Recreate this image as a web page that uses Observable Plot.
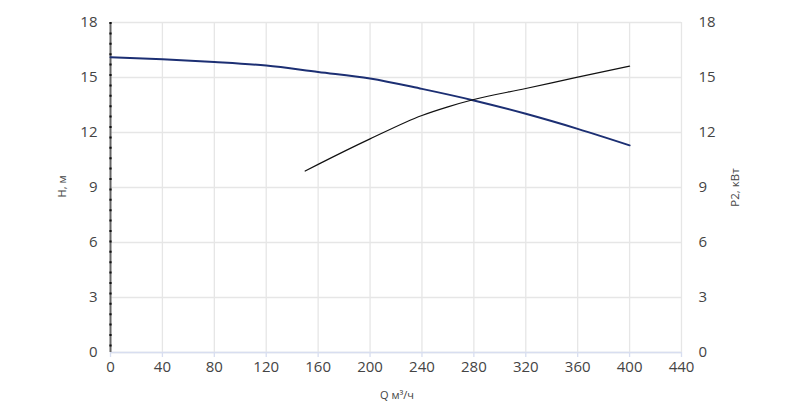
<!DOCTYPE html>
<html>
<head>
<meta charset="utf-8">
<script src="https://cdn.jsdelivr.net/npm/d3@7"></script>
<script src="https://cdn.jsdelivr.net/npm/@observablehq/plot@0.6"></script>
<style>
  body { margin: 0; background: #fff; }
  svg { font-family: "Open Sans", sans-serif; }
</style>
</head>
<body>
<div id="chart"></div>
<script>
const xTicks = [0, 40, 80, 120, 160, 200, 240, 280, 320, 360, 400, 440];
const yTicks = [0, 3, 6, 9, 12, 15, 18];

const headQ = [0, 40, 80, 120, 160, 200, 240, 280, 320, 360, 400];
const headH = [16.1, 16.0, 15.85, 15.65, 15.3, 14.95, 14.38, 13.75, 13.02, 12.2, 11.3];

const powerQ = [150, 160, 200, 240, 260, 280, 320, 360, 400];
const powerP = [9.9, 10.26, 11.65, 12.93, 13.4, 13.8, 14.4, 15.02, 15.62];

const head = headQ.map((q, i) => ({q, v: headH[i]}));
const power = powerQ.map((q, i) => ({q, v: powerP[i]}));

const plot = Plot.plot({
  width: 800,
  height: 408,
  marginLeft: 110,
  marginRight: 119,
  marginTop: 22,
  marginBottom: 56,
  style: {fontFamily: "Open Sans, sans-serif", background: "#fff"},
  x: {domain: [0, 440]},
  y: {domain: [0, 18]},
  marks: [
    Plot.ruleX(xTicks, {stroke: "#e6e6e6", strokeWidth: 1.3}),
    Plot.ruleY(yTicks, {stroke: "#e6e6e6", strokeWidth: 1.3}),
    Plot.ruleY([0], {stroke: "#d8def0", strokeWidth: 1.5}),
    Plot.ruleX([0], {stroke: "#666", strokeWidth: 2}),
    Plot.ruleX([0], {stroke: "#111", strokeWidth: 2.2, strokeDasharray: "2,8.4"}),
    Plot.axisX(xTicks, {tickSize: 5, tickPadding: 4, stroke: "#d8def0", strokeWidth: 1.3, fontSize: 15, fill: "#444", label: null}),
    Plot.axisY(yTicks, {anchor: "left", tickSize: 0, tickPadding: 13, fontSize: 15, fill: "#444", label: null}),
    Plot.axisY(yTicks, {anchor: "right", tickSize: 0, tickPadding: 17, fontSize: 15, fill: "#444", label: null}),
    Plot.line(head, {x: "q", y: "v", stroke: "#1c2f73", strokeWidth: 2, curve: "monotone-x"}),
    Plot.line(power, {x: "q", y: "v", stroke: "#111", strokeWidth: 1.2, curve: "monotone-x"}),
    Plot.text(["H, м"], {frameAnchor: "left", textAnchor: "middle", dx: -48, dy: -1, rotate: -90, fontSize: 11, fill: "#444"}),
    Plot.text(["P2, кВт"], {frameAnchor: "right", textAnchor: "middle", dx: 54, dy: 0, rotate: -90, fontSize: 11.5, fill: "#444"}),
    Plot.text(["Q м³/ч"], {frameAnchor: "bottom", dx: 1, dy: 46, fontSize: 11, fill: "#444"})
  ]
});
document.getElementById("chart").appendChild(plot);
</script>
</body>
</html>
